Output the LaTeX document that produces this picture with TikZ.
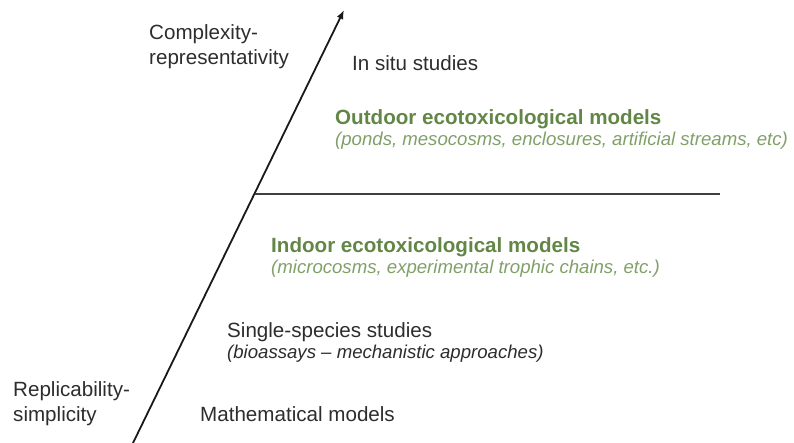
\documentclass[tikz,border=0pt]{standalone}
\usepackage{fontspec}
\setmainfont{Liberation Sans}
\usetikzlibrary{arrows.meta, positioning}

\definecolor{ecogreen}{RGB}{98,134,70}
\definecolor{ecolight}{RGB}{128,160,104}
\definecolor{txtgray}{RGB}{45,45,45}

\begin{document}
\begin{tikzpicture}[
        x=1pt, y=-1pt,
        lbl/.style={anchor=base west, inner sep=0pt, text=txtgray, font=\fontsize{20.6}{25}\selectfont},
        axislbl/.style={lbl, anchor=north west, align=left},
        title/.style={anchor=base west, inner sep=0pt, text=ecogreen, font=\fontsize{20.6}{25}\selectfont\bfseries},
        sub/.style={anchor=base west, inner sep=0pt, font=\fontsize{18.6}{22}\selectfont\itshape},
        arr/.style={-{Latex[length=9pt, width=7pt]}, line width=1.8pt, black!90},
        split/.style={line width=2.4pt, black!75}
    ]
        \useasboundingbox (0,0) rectangle (794,443);

        \coordinate (base) at (133,443);
        \coordinate (tip) at (344,10);
        \coordinate (limit) at (255,194);
        \coordinate (limitend) at (720,194);

        \draw[arr] (base) -- (tip);
        \draw[split] (limit) -- (limitend);

        % axis ends
        \node[axislbl] (complex) at (149,24) {Complexity-\\representativity};
        \node[axislbl] (simple) at (13,381) {Replicability-\\simplicity};

        % upper part
        \node[lbl] (insitu) at (352,70.5) {In situ studies};
        \node[title] (outdoor) at (335,124.5) {Outdoor ecotoxicological models};
        \node[sub, text=ecolight, below=21pt of outdoor.base west, anchor=base west] (outdoorex) {(ponds, mesocosms, enclosures, artificial streams, etc)};

        % lower part
        \node[title] (indoor) at (271,252.5) {Indoor ecotoxicological models};
        \node[sub, text=ecolight, below=21pt of indoor.base west, anchor=base west] (indoorex) {(microcosms, experimental trophic chains, etc.)};
        \node[lbl] (single) at (227,337.5) {Single-species studies};
        \node[sub, text=txtgray, below=21pt of single.base west, anchor=base west] (singleex) {(bioassays -- mechanistic approaches)};
        \node[lbl] (math) at (200,421.5) {Mathematical models};
    \end{tikzpicture}
\end{document}
